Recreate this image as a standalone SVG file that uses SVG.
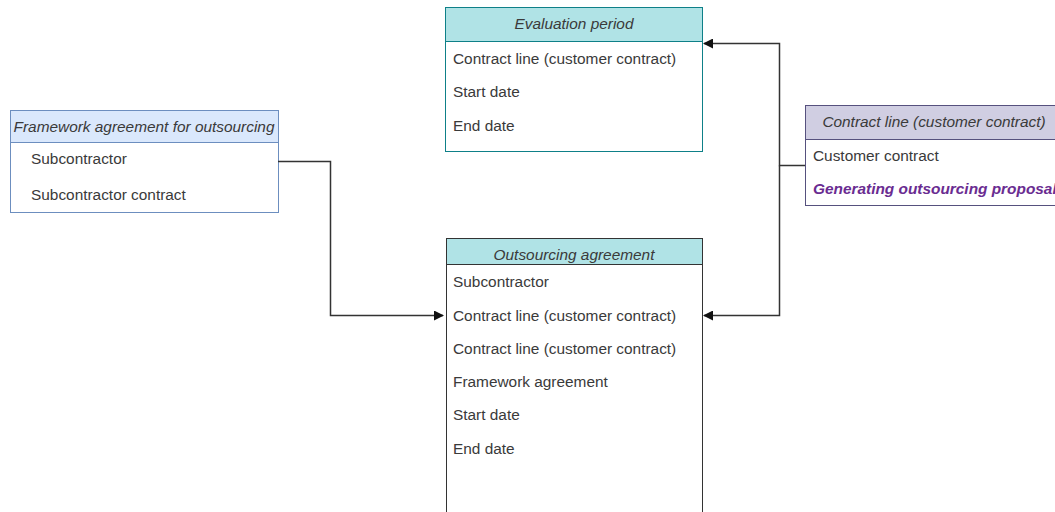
<svg xmlns="http://www.w3.org/2000/svg" width="1055" height="512" viewBox="0 0 1055 512">
<style>
text{font-family:"Liberation Sans",Arial,sans-serif;font-size:15.4px;fill:#3a3a3a}
.h{font-style:italic;text-anchor:middle}
.conn{fill:none;stroke:#333;stroke-width:1.5}
.p{fill:#6a2c91;font-weight:bold;font-style:italic}
</style>
<defs>
<marker id="arr" viewBox="0 0 10 10" refX="9" refY="5" markerWidth="10" markerHeight="10" markerUnits="userSpaceOnUse" orient="auto">
<path d="M0,0 L10,5 L0,10 z" fill="#111"/>
</marker>
</defs>
<rect width="1055" height="512" fill="#fff"/>
<g id="framework">
<rect x="10.5" y="110.5" width="268" height="102" fill="#fff" stroke="#6c8ebf"/>
<rect x="10.5" y="110.5" width="268" height="32" fill="#dae8fc" stroke="#6c8ebf"/>
<text class="h" x="144" y="132">Framework agreement for outsourcing</text>
<text x="31" y="164">Subcontractor</text>
<text x="31" y="200">Subcontractor contract</text>
</g>
<g id="evaluation">
<rect x="445.5" y="7.5" width="257" height="144" fill="#fff" stroke="#0e8088"/>
<rect x="445.5" y="7.5" width="257" height="34" fill="#b0e3e6" stroke="#0e8088"/>
<text class="h" x="574" y="29">Evaluation period</text>
<text x="453" y="64">Contract line (customer contract)</text>
<text x="453" y="97">Start date</text>
<text x="453" y="131">End date</text>
</g>
<g id="contractline">
<rect x="805.5" y="105.5" width="260" height="100" fill="#fff" stroke="#56517e"/>
<rect x="805.5" y="105.5" width="260" height="34" fill="#d0cee2" stroke="#56517e"/>
<text class="h" x="934" y="127">Contract line (customer contract)</text>
<text x="813" y="161">Customer contract</text>
<text class="p" x="813" y="194">Generating outsourcing proposal</text>
</g>
<g id="outsourcing">
<rect x="446.5" y="238.5" width="256" height="290" fill="#fff" stroke="#333"/>
<rect x="446.5" y="238.5" width="256" height="26" fill="#b0e3e6" stroke="#333"/>
<text class="h" x="574" y="260">Outsourcing agreement</text>
<text x="453" y="287">Subcontractor</text>
<text x="453" y="321">Contract line (customer contract)</text>
<text x="453" y="354">Contract line (customer contract)</text>
<text x="453" y="387">Framework agreement</text>
<text x="453" y="420">Start date</text>
<text x="453" y="454">End date</text>
</g>
<g id="connectors">
<path class="conn" d="M278,161.5 H330.5 V315.5 H443" marker-end="url(#arr)"/>
<path class="conn" d="M805,165.5 H779.5 V43.5 H704" marker-end="url(#arr)"/>
<path class="conn" d="M779.5,165.5 V315.5 H704" marker-end="url(#arr)"/>
</g>
</svg>
